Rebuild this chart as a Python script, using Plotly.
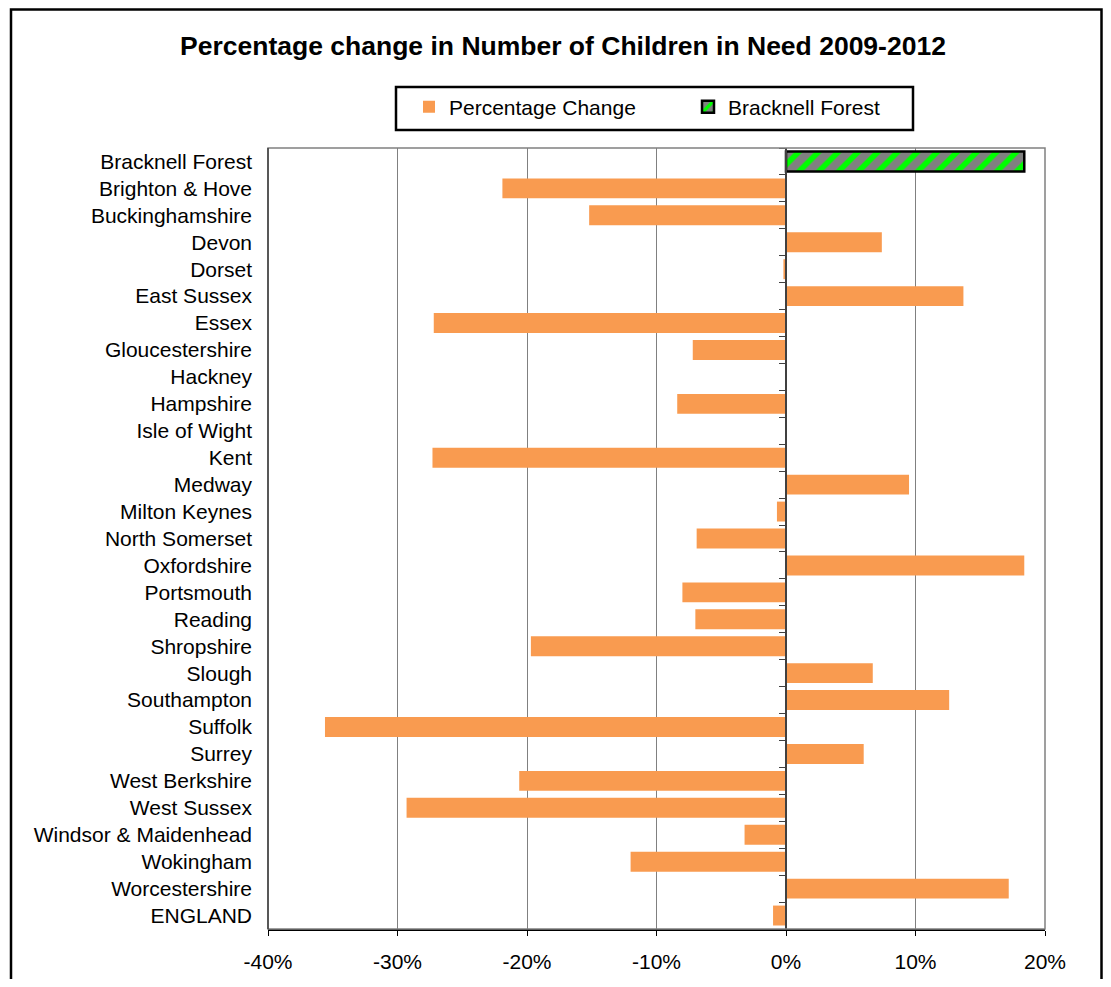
import plotly.graph_objects as go

categories = ["Bracknell Forest", "Brighton & Hove", "Buckinghamshire", "Devon", "Dorset",
              "East Sussex", "Essex", "Gloucestershire", "Hackney", "Hampshire",
              "Isle of Wight", "Kent", "Medway", "Milton Keynes", "North Somerset",
              "Oxfordshire", "Portsmouth", "Reading", "Shropshire", "Slough",
              "Southampton", "Suffolk", "Surrey", "West Berkshire", "West Sussex",
              "Windsor & Maidenhead", "Wokingham", "Worcestershire", "ENGLAND"]

pct_change = [None, -21.9, -15.2, 7.4, -0.2,
              13.7, -27.2, -7.2, 0.0, -8.4,
              0.0, -27.3, 9.5, -0.7, -6.9,
              18.4, -8.0, -7.0, -19.7, 6.7,
              12.6, -35.6, 6.0, -20.6, -29.3,
              -3.2, -12.0, 17.2, -1.0]

bracknell_cat = ["Bracknell Forest"]
bracknell_val = [18.4]

x_ticks = [-40, -30, -20, -10, 0, 10, 20]
x_tick_labels = ["-40%", "-30%", "-20%", "-10%", "0%", "10%", "20%"]

FONT = "Liberation Sans, Arial, sans-serif"
ORANGE = "#F99B50"

# page has an 8px body margin: figure sized/positioned to compensate
OFF = 8
W, H = 1111 - 2 * OFF, 987 - 2 * OFF
L, T = 268 - OFF, 148 - OFF
R = W - (1045 - OFF)
B = H - (929 - OFF)
pw = W - L - R
ph = H - T - B


def px_x(x):
    return (x - OFF - L) / pw


def px_y(y):
    return (H - B - (y - OFF)) / ph


fig = go.Figure()
fig.add_trace(go.Bar(
    y=categories, x=pct_change, orientation="h", name="Percentage Change",
    marker=dict(color=ORANGE, line=dict(width=0)),
))
fig.add_trace(go.Bar(
    y=bracknell_cat, x=bracknell_val, orientation="h", name="Bracknell Forest",
    marker=dict(color="#808080",
                pattern=dict(shape="/", bgcolor="#808080", fgcolor="#00FF00",
                             size=14, solidity=0.4, fillmode="replace"),
                line=dict(color="black", width=2.5)),
))
# carries the zero-line axis (category boundary ticks)
fig.add_trace(go.Bar(y=categories, x=[None] * len(categories), orientation="h",
                     yaxis="y2", showlegend=False, hoverinfo="skip",
                     marker=dict(color="rgba(0,0,0,0)")))

fig.update_layout(
    width=W, height=H,
    margin=dict(l=L, r=R, t=T, b=B, pad=0, autoexpand=False),
    paper_bgcolor="white", plot_bgcolor="white",
    font=dict(family=FONT, size=21, color="black"),
    barmode="overlay", bargap=0.26,
    showlegend=True,
    title=dict(text="<b>Percentage change in Number of Children in Need 2009-2012</b>",
               x=(563 - OFF) / W, xref="container", xanchor="center",
               y=1 - (46 - OFF) / H, yref="container", yanchor="middle",
               font=dict(family=FONT, size=26.5, color="black")),
    legend=dict(orientation="h", x=px_x(409), xanchor="left", y=px_y(107), yanchor="middle",
                borderwidth=0, bgcolor="rgba(0,0,0,0)",
                font=dict(family=FONT, size=21, color="black"),
                entrywidth=234),
    xaxis=dict(range=[-40, 20], tickmode="array", tickvals=x_ticks, ticktext=x_tick_labels,
               showgrid=True, gridcolor="#808080", gridwidth=1,
               zeroline=False, showline=True, linecolor="black", linewidth=1.5,
               ticks="outside", ticklen=5, tickcolor="black",
               ticklabelstandoff=8, automargin=False,
               tickfont=dict(family=FONT, size=21, color="black")),
    yaxis=dict(type="category", categoryorder="array", categoryarray=categories,
               range=[len(categories) - 0.5, -0.5],
               showgrid=False, zeroline=False, showline=False, ticks="",
               ticklabelstandoff=15, automargin=False,
               tickfont=dict(family=FONT, size=21, color="black")),
    yaxis2=dict(type="category", categoryorder="array", categoryarray=categories,
                range=[len(categories) - 0.5, -0.5],
                overlaying="y", anchor="free", position=40 / 60, side="left",
                showticklabels=False, showgrid=False, zeroline=False, automargin=False,
                showline=True, linecolor="#404040", linewidth=1.5,
                ticks="outside", tickson="boundaries", ticklen=6, tickcolor="#404040"),
    shapes=[
        # plot area frame
        dict(type="rect", xref="paper", yref="paper", x0=0, x1=1, y0=0, y1=1,
             line=dict(color="#808080", width=1.5), layer="above"),
        dict(type="line", xref="paper", yref="paper", x0=0, x1=0, y0=0, y1=1,
             line=dict(color="#404040", width=1.5), layer="above"),
        # legend box
        dict(type="rect", xref="paper", yref="paper",
             x0=px_x(396), x1=px_x(913), y0=px_y(130), y1=px_y(87),
             line=dict(color="black", width=2.5), fillcolor="rgba(0,0,0,0)", layer="above"),
        # outer chart border
        dict(type="rect", xref="paper", yref="paper",
             x0=px_x(11), x1=px_x(1101.5), y0=px_y(1010), y1=px_y(9.5),
             line=dict(color="black", width=2.5), layer="above"),
    ],
)

fig.write_html("out.html")
